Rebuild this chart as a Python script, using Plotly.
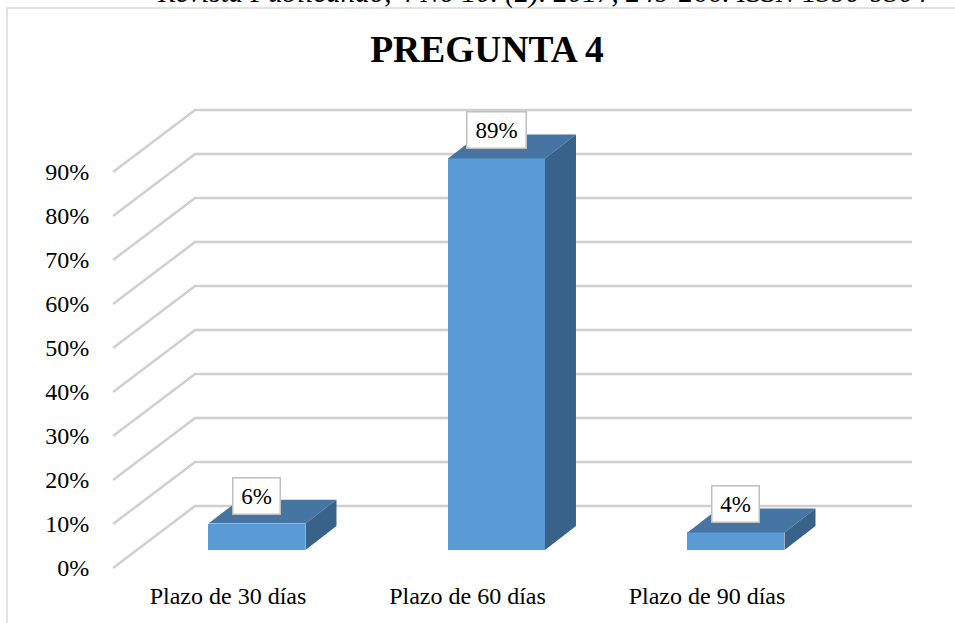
import plotly.graph_objects as go

# ---------------- data ----------------
categories = ["Plazo de 30 días", "Plazo de 60 días", "Plazo de 90 días"]
values = [0.06, 0.89, 0.04]
value_labels = ["6%", "89%", "4%"]
tick_values = [0.0, 0.1, 0.2, 0.3, 0.4, 0.5, 0.6, 0.7, 0.8, 0.9]
tick_labels = ["0%", "10%", "20%", "30%", "40%", "50%", "60%", "70%", "80%", "90%"]
title_text = "PREGUNTA 4"
header_text = "Revista Publicando, 4 No 10. (2). 2017, 249-266. ISSN 1390-9304"

# ---------------- style / geometry (oblique 3D look) ----------------
FONT = "Liberation Serif, Times New Roman, serif"
FRONT = "#5B9BD5"
TOP = "#4675A3"
SIDE = "#39628A"
GRID = "#cfcfcf"

W, H = 955, 623
ML, MR, MT, MB = 98, 25, 80, 50
X_RANGE = [-0.5428, 2.9311]
Y_RANGE = [-0.01136, 1.10909]

FLOOR_LEFT = -0.480      # front-left edge of floor/wall
FLOOR_RIGHT = 2.5136     # front-right edge
DEPTH_DX = 0.3424        # full depth offset (x units)
DEPTH_DY = 0.1410        # full depth offset (y units)
BAR_DX = 0.121           # bar front-face offset from front plane
BAR_DY = 0.0409
BAR_W = 0.405
BAR_DEPTH_DX = 0.1294
BAR_DEPTH_DY = 0.0545

fig = go.Figure()

# front faces
xs = [i + BAR_DX for i in range(len(categories))]
fig.add_trace(go.Bar(
    x=xs, y=values, base=[BAR_DY] * len(values), width=BAR_W,
    marker=dict(color=FRONT, line=dict(width=0)),
    hoverinfo="skip", showlegend=False,
))

# top and side faces
for xc, v in zip(xs, values):
    x0, x1 = xc - BAR_W / 2, xc + BAR_W / 2
    y0, y1 = BAR_DY, BAR_DY + v
    fig.add_trace(go.Scatter(
        x=[x0, x1, x1 + BAR_DEPTH_DX, x0 + BAR_DEPTH_DX, x0],
        y=[y1, y1, y1 + BAR_DEPTH_DY, y1 + BAR_DEPTH_DY, y1],
        fill="toself", fillcolor=TOP, line=dict(width=0), mode="lines",
        hoverinfo="skip", showlegend=False,
    ))
    fig.add_trace(go.Scatter(
        x=[x1, x1 + BAR_DEPTH_DX, x1 + BAR_DEPTH_DX, x1, x1],
        y=[y0, y0 + BAR_DEPTH_DY, y1 + BAR_DEPTH_DY, y1, y0],
        fill="toself", fillcolor=SIDE, line=dict(width=0), mode="lines",
        hoverinfo="skip", showlegend=False,
    ))

# gridlines (side wall diagonal + back wall), drawn below traces
shapes = []
for v in tick_values:
    path = (f"M {FLOOR_LEFT},{v} L {FLOOR_LEFT + DEPTH_DX},{v + DEPTH_DY} "
            f"L {FLOOR_RIGHT + DEPTH_DX},{v + DEPTH_DY}")
    shapes.append(dict(type="path", path=path, xref="x", yref="y", layer="below",
                       line=dict(color=GRID, width=2.5)))

# chart frame (left and top edges visible); helpers take page pixels
def px_to_paper_x(px):
    return (px - ML) / (W - ML - MR)

def px_to_paper_y(py):
    return (H - MB - py) / (H - MT - MB)

shapes.append(dict(
    type="path", xref="paper", yref="paper", layer="below",
    path=(f"M {px_to_paper_x(7)},{px_to_paper_y(660)} L {px_to_paper_x(7)},{px_to_paper_y(8)} "
          f"L {px_to_paper_x(990)},{px_to_paper_y(8)}"),
    line=dict(color="#d9d9d9", width=1.5),
))

annotations = []
for xc, v, lab in zip(xs, values, value_labels):
    annotations.append(dict(
        x=xc, y=BAR_DY + v, xref="x", yref="y", text=lab, showarrow=False,
        yshift=28, xanchor="center", yanchor="middle",
        font=dict(family=FONT, size=23, color="black"),
        bgcolor="white", bordercolor="#bfbfbf", borderwidth=1.5, borderpad=1,
        width=12 * len(lab) + 20, height=33,
    ))

annotations.append(dict(
    x=px_to_paper_x(155), y=px_to_paper_y(-7), xref="paper", yref="paper",
    text=f"<i>{header_text}</i>", showarrow=False, xanchor="left", yanchor="middle",
    font=dict(family=FONT, size=29, color="black"),
))

fig.update_layout(
    width=W, height=H,
    margin=dict(l=ML, r=MR, t=MT, b=MB),
    paper_bgcolor="white", plot_bgcolor="white",
    title=dict(text=f"<b>{title_text}</b>", x=487 / W, xanchor="center",
               y=1 - 49 / H, yanchor="middle", xref="container", yref="container",
               font=dict(family=FONT, size=37.5, color="black")),
    xaxis=dict(range=X_RANGE, tickvals=list(range(len(categories))), ticktext=categories,
               showgrid=False, zeroline=False, showline=False, ticks="outside",
               ticklen=1, tickcolor="rgba(0,0,0,0)",
               tickfont=dict(family=FONT, size=24, color="black"), fixedrange=True),
    yaxis=dict(range=Y_RANGE, tickvals=tick_values, ticktext=tick_labels,
               showgrid=False, zeroline=False, showline=False, ticks="outside",
               ticklen=3, tickcolor="rgba(0,0,0,0)",
               tickfont=dict(family=FONT, size=24, color="black"), fixedrange=True),
    shapes=shapes, annotations=annotations, bargap=0, showlegend=False,
)

fig.write_html("out.html", config={"displayModeBar": False},
               post_script="document.body.style.margin='0';")
